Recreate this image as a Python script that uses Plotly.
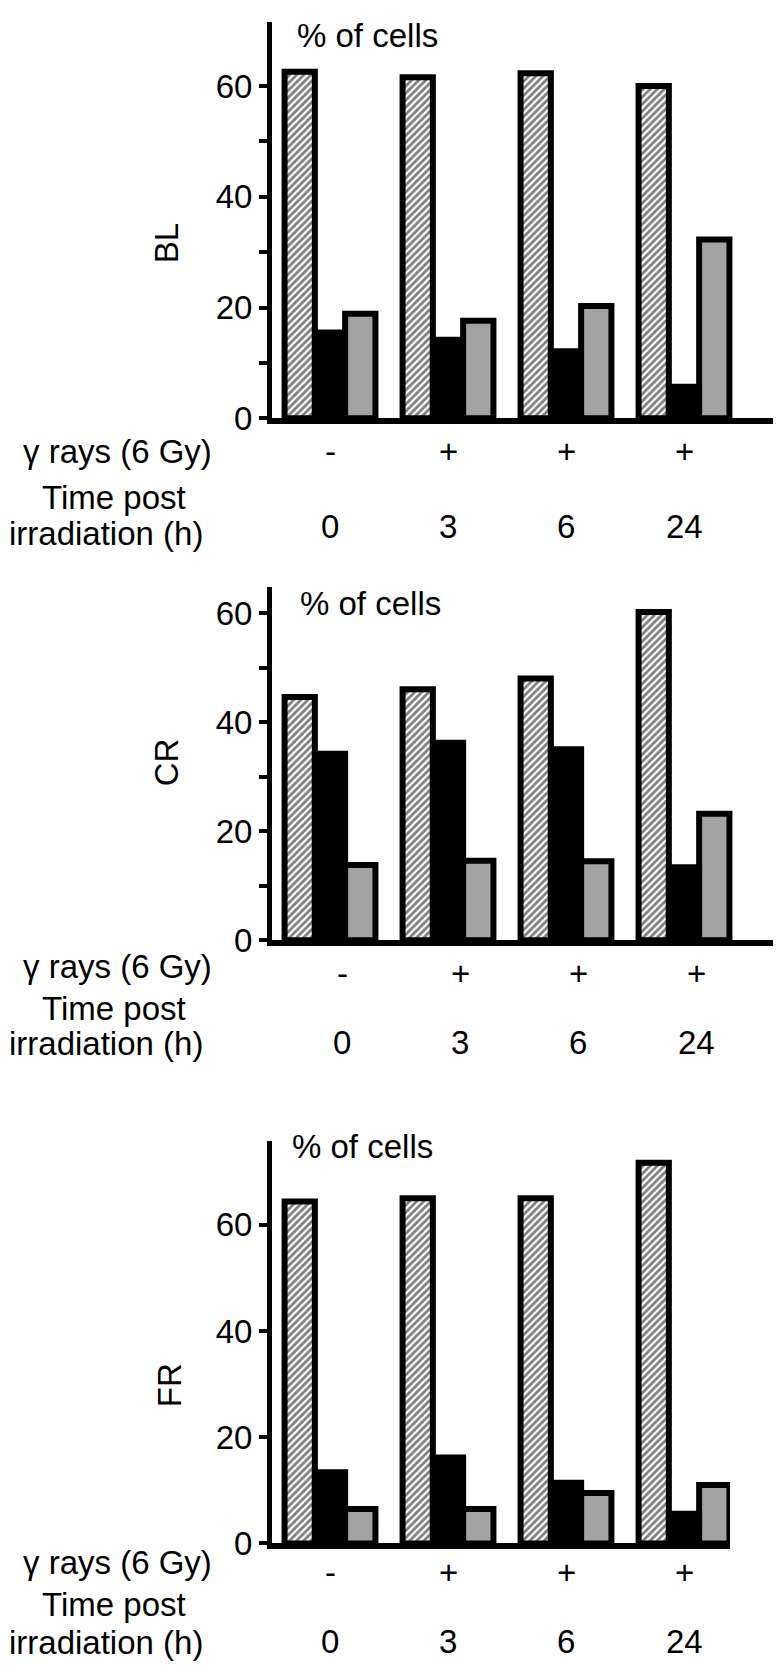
import plotly.graph_objects as go

W, H = 781, 1675

# categories / tick labels
times = ["0", "3", "6", "24"]
gamma = ["-", "+", "+", "+"]

# % of cells
bl_hatched = [62.6, 61.6, 62.3, 60.0]
bl_black = [15.5, 14.2, 12.1, 5.7]
bl_gray = [18.9, 17.6, 20.3, 32.3]

cr_hatched = [44.6, 46.0, 48.0, 60.2]
cr_black = [34.2, 36.2, 35.0, 13.4]
cr_gray = [13.8, 14.6, 14.5, 23.2]

fr_hatched = [64.4, 65.0, 65.0, 71.7]
fr_black = [13.4, 16.2, 11.4, 5.6]
fr_gray = [6.5, 6.5, 9.5, 11.0]

FONT = "Liberation Sans, Arial, Helvetica, sans-serif"
FS = 33


def px_x(x):
    return x / W


def px_y(y):
    return 1 - y / H


# layout of each panel in pixels (top, bottom, right end of x axis, ...)
panels = [
    dict(name="BL", vals=(bl_hatched, bl_black, bl_gray), top=14, base=415,
         right=776, ymax=71.6, minor=True, title_xy=(158, 238),
         pct_xy=(287, 28), gamma_y=449, sign_y=449, tp_y=495, irr_y=532,
         num_y=524, shift=0),
    dict(name="CR", vals=(cr_hatched, cr_black, cr_gray), top=586, base=943,
         right=775, ymax=64.7, minor=True, title_xy=(158, 763),
         pct_xy=(290, 602), gamma_y=970, sign_y=977, tp_y=1012, irr_y=1047,
         num_y=1046, shift=12),
    dict(name="FR", vals=(fr_hatched, fr_black, fr_gray), top=1146, base=1553,
         right=722, ymax=75.8, minor=False, title_xy=(161, 1393),
         pct_xy=(282, 1152), gamma_y=1572, sign_y=1582, tp_y=1615,
         irr_y=1653, num_y=1652, shift=0),
]

AXIS_X = 264
CAT_PX = 118   # pixels per category
FIRST_PX = 322

fig = go.Figure()
annotations = []
layout = {}

for i, p in enumerate(panels):
    n = "" if i == 0 else str(i + 1)
    xa, ya = "x" + n, "y" + n
    hatched, black, gray = p["vals"]

    fig.add_trace(go.Bar(
        x=times, y=hatched, xaxis=xa, yaxis=ya,
        marker=dict(color="white", line=dict(color="black", width=6),
                    pattern=dict(shape="/", fgcolor="black", bgcolor="white",
                                 size=5, solidity=0.55)),
    ))
    fig.add_trace(go.Bar(
        x=times, y=black, xaxis=xa, yaxis=ya,
        marker=dict(color="black", line=dict(color="black", width=6)),
    ))
    fig.add_trace(go.Bar(
        x=times, y=gray, xaxis=xa, yaxis=ya,
        marker=dict(color="#a3a3a3", line=dict(color="black", width=6)),
    ))

    x0 = (AXIS_X - FIRST_PX) / CAT_PX
    x1 = (p["right"] - FIRST_PX) / CAT_PX
    layout["xaxis" + n] = dict(
        type="category", domain=[px_x(AXIS_X), px_x(p["right"])], anchor=ya,
        range=[x0, x1], showline=True, linewidth=6, linecolor="black",
        showticklabels=False, ticks="", showgrid=False, zeroline=False,
    )
    if p["minor"]:
        tv = [0, 10, 20, 30, 40, 50, 60]
        tt = ["0", "", "20", "", "40", "", "60"]
    else:
        tv = [0, 20, 40, 60]
        tt = ["0", "20", "40", "60"]
    layout["yaxis" + n] = dict(
        domain=[px_y(p["base"]), px_y(p["top"])], anchor=xa,
        range=[0, p["ymax"]], showline=True, linewidth=5, linecolor="black",
        ticks="outside", ticklen=8, tickwidth=4, tickcolor="black",
        tickvals=tv, ticktext=tt, tickfont=dict(size=FS, color="black"),
        showgrid=False, zeroline=False,
    )

    tx, ty = p["title_xy"]
    annotations.append(dict(text=p["name"], x=px_x(tx), y=px_y(ty),
                            xref="paper", yref="paper", textangle=-90,
                            showarrow=False, xanchor="center", yanchor="middle"))
    cx, cy = p["pct_xy"]
    annotations.append(dict(text="% of cells", x=px_x(cx), y=px_y(cy),
                            xref="paper", yref="paper", showarrow=False,
                            xanchor="left", yanchor="middle"))
    annotations.append(dict(text="\u03b3 rays (6 Gy)", x=px_x(206),
                            y=px_y(p["gamma_y"]), xref="paper", yref="paper",
                            showarrow=False, xanchor="right", yanchor="middle"))
    annotations.append(dict(text="Time post", x=px_x(106), y=px_y(p["tp_y"]),
                            xref="paper", yref="paper", showarrow=False,
                            xanchor="center", yanchor="middle"))
    annotations.append(dict(text="irradiation (h)", x=px_x(98),
                            y=px_y(p["irr_y"]), xref="paper", yref="paper",
                            showarrow=False, xanchor="center", yanchor="middle"))
    for k, (t, g) in enumerate(zip(times, gamma)):
        annotations.append(dict(text=g, x=k, y=px_y(p["sign_y"]), xref=xa,
                                yref="paper", showarrow=False, xshift=p["shift"],
                                xanchor="center", yanchor="middle"))
        annotations.append(dict(text=t, x=k, y=px_y(p["num_y"]), xref=xa,
                                yref="paper", showarrow=False, xshift=p["shift"],
                                xanchor="center", yanchor="middle"))

fig.update_layout(
    width=W, height=H,
    margin=dict(l=0, r=0, t=0, b=0),
    paper_bgcolor="white", plot_bgcolor="white",
    font=dict(family=FONT, size=FS, color="black"),
    barmode="group", bargap=0.23, bargroupgap=0,
    showlegend=False,
    annotations=annotations,
    **layout,
)

fig.write_html("out.html")
